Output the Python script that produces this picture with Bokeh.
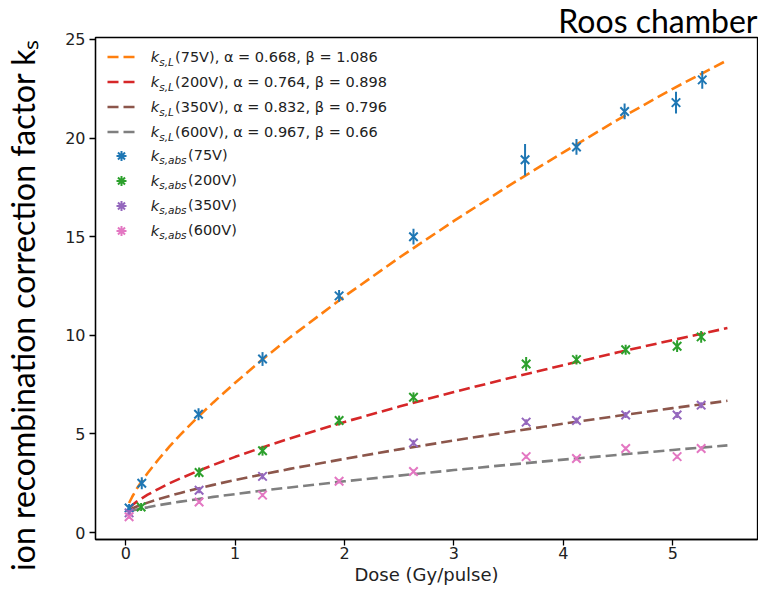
from bokeh.plotting import figure
from bokeh.models import Range1d, Label, Legend, LegendItem, FixedTicker
from bokeh.embed import file_html
from bokeh.resources import INLINE

# ---------------- data ----------------
x_ticks = [0, 1, 2, 3, 4, 5]
y_ticks = [0, 5, 10, 15, 20, 25]

# measured k_s,abs with error bars
dose_75 = [0.03, 0.146, 0.665, 1.25, 1.95, 2.63, 3.65, 4.12, 4.56, 5.03, 5.27]
ks_75 = [1.25, 2.5, 6.0, 8.8, 12.0, 15.0, 18.9, 19.55, 21.35, 21.8, 22.95]
err_75 = [0.2, 0.3, 0.3, 0.35, 0.3, 0.4, 0.8, 0.4, 0.4, 0.55, 0.45]

dose_200 = [0.14, 0.67, 1.25, 1.95, 2.63, 3.66, 4.12, 4.57, 5.04, 5.26]
ks_200 = [1.3, 3.05, 4.15, 5.68, 6.86, 8.55, 8.77, 9.27, 9.45, 9.92]
err_200 = [0.2, 0.25, 0.25, 0.25, 0.25, 0.35, 0.25, 0.25, 0.3, 0.3]

dose_350 = [0.03, 0.67, 1.25, 2.63, 3.66, 4.12, 4.57, 5.04, 5.26]
ks_350 = [1.0, 2.15, 2.85, 4.55, 5.6, 5.68, 5.96, 5.96, 6.46]
err_350 = [0.15, 0.15, 0.15, 0.15, 0.15, 0.15, 0.15, 0.15, 0.15]

dose_600 = [0.03, 0.67, 1.25, 1.95, 2.63, 3.66, 4.12, 4.57, 5.04, 5.26]
ks_600 = [0.8, 1.55, 1.9, 2.6, 3.1, 3.85, 3.76, 4.26, 3.85, 4.26]
err_600 = [0.1, 0.1, 0.1, 0.1, 0.1, 0.1, 0.1, 0.1, 0.1, 0.1]

# fitted curves k_s,L
curve_dose = [0.03, 0.06, 0.1, 0.15, 0.2, 0.3, 0.4, 0.5, 0.65, 0.8, 1.0,
              1.25, 1.5, 2.0, 2.5, 3.0, 3.5, 4.0, 4.5, 5.0, 5.5]
curve_75 = [1.50, 1.83, 2.22, 2.64, 3.02, 3.72, 4.37, 4.97, 5.81, 6.60, 7.60,
            8.78, 9.89, 11.98, 13.94, 15.80, 17.58, 19.28, 20.94, 22.50, 23.95]
curve_200 = [1.24, 1.40, 1.57, 1.75, 1.92, 2.22, 2.50, 2.75, 3.10, 3.43, 3.84,
             4.32, 4.77, 5.61, 6.39, 7.13, 7.82, 8.49, 9.14, 9.76, 10.37]
curve_350 = [1.13, 1.22, 1.32, 1.42, 1.52, 1.70, 1.86, 2.01, 2.22, 2.42, 2.67,
             2.95, 3.23, 3.74, 4.22, 4.67, 5.10, 5.52, 5.92, 6.31, 6.68]
curve_600 = [1.07, 1.12, 1.17, 1.23, 1.28, 1.39, 1.48, 1.57, 1.69, 1.81, 1.95,
             2.13, 2.29, 2.60, 2.89, 3.17, 3.44, 3.70, 3.94, 4.19, 4.42]

fit_labels = ["(75V), α = 0.668, β = 1.086", "(200V), α = 0.764, β = 0.898",
              "(350V), α = 0.832, β = 0.796", "(600V), α = 0.967, β = 0.66"]
abs_labels = ["(75V)", "(200V)", "(350V)", "(600V)"]

line_colors = ["#ff7f0e", "#d62728", "#8c564b", "#7f7f7f"]
mark_colors = ["#1f77b4", "#2ca02c", "#9467bd", "#e377c2"]

# ---------------- figure ----------------
W, H = 758, 587
ML, MR, MT, MB = 93, 1, 34, 48

p = figure(width=W, height=H, x_range=Range1d(-0.277, 5.775), y_range=Range1d(-0.35, 25.1),
           output_backend="svg", toolbar_location=None,
           min_border_left=ML, min_border_right=MR, min_border_top=MT, min_border_bottom=MB)
p.title.text = "Roos chamber"
p.title.align = "right"
p.title.text_font = "Lato"
p.title.text_font_size = "32px"
p.title.text_font_style = "normal"
p.title.text_color = "black"
p.title.offset = 0
try:
    p.title.standoff = -4
except Exception:
    p.title.standoff = 0

p.xgrid.visible = False
p.ygrid.visible = False
p.outline_line_color = "black"
p.outline_line_width = 1.3
p.outline_line_alpha = 1.0
p.background_fill_color = "white"
p.border_fill_color = "white"

p.xaxis.ticker = FixedTicker(ticks=x_ticks)
p.yaxis.ticker = FixedTicker(ticks=y_ticks)
for ax in (p.xaxis[0], p.yaxis[0]):
    ax.axis_line_color = "black"
    ax.axis_line_width = 1.3
    ax.major_tick_line_color = "black"
    ax.major_tick_line_width = 1.3
    ax.major_tick_in = 0
    ax.major_tick_out = 6
    ax.minor_tick_line_color = None
    ax.major_label_text_font = "DejaVu Sans"
    ax.major_label_text_font_size = "16px"
    ax.major_label_text_color = "#222222"
p.xaxis.major_label_standoff = 1
p.yaxis.major_label_standoff = 4
p.xaxis.axis_label = "Dose (Gy/pulse)"
p.xaxis.axis_label_text_font = "DejaVu Sans"
p.xaxis.axis_label_text_font_size = "18px"
p.xaxis.axis_label_text_font_style = "normal"
p.xaxis.axis_label_text_color = "#222222"
p.xaxis.axis_label_standoff = 2

# a few trailing no-break spaces shift the visible label slightly down, as in the reference
p.yaxis.axis_label = "ion recombination correction factor k\u209b" + "\u00a0" * 4
p.yaxis.axis_label_text_font = "Lato"
p.yaxis.axis_label_text_font_size = "32px"
p.yaxis.axis_label_text_font_style = "normal"
p.yaxis.axis_label_text_color = "black"
p.yaxis.axis_label_standoff = 20

# ---------------- glyphs ----------------
curves = [curve_75, curve_200, curve_350, curve_600]
line_rs = []
for ys, c in zip(curves, line_colors):
    line_rs.append(p.line(curve_dose, ys, line_color=c, line_width=2.6, line_dash="11 5"))

series = [(dose_75, ks_75, err_75), (dose_200, ks_200, err_200),
          (dose_350, ks_350, err_350), (dose_600, ks_600, err_600)]
leg_marks = []
for (xs, ys, es), c in zip(series, mark_colors):
    lo = [y - e for y, e in zip(ys, es)]
    hi = [y + e for y, e in zip(ys, es)]
    p.segment(x0=xs, y0=lo, x1=xs, y1=hi, line_color=c, line_width=2)
    p.scatter(xs, ys, marker="x", size=12, line_color=c, line_width=2)
    leg_marks.append(p.scatter(xs, ys, marker="asterisk", size=0, line_color=c, line_width=2))

# ---------------- legends ----------------
ROW = 25
leg1_top = 10.2          # px below frame top
leg2_top = 108.5
GX = 12                  # glyph left, px from frame left
GW = 28
FH = H - MT - MB

leg1 = Legend(items=[LegendItem(label=t, renderers=[r]) for t, r in zip(fit_labels, line_rs)],
              location=(GX, FH - leg1_top - 4 * ROW), glyph_width=GW, glyph_height=ROW,
              label_height=ROW, spacing=0, padding=0, margin=0, label_standoff=40,
              label_text_font="DejaVu Sans", label_text_font_size="14.5px",
              label_text_color="#222222",
              background_fill_alpha=0, border_line_alpha=0)
leg2 = Legend(items=[LegendItem(label=t, renderers=[r]) for t, r in zip(abs_labels, leg_marks)],
              location=(GX, FH - leg2_top - 4 * ROW), glyph_width=GW, glyph_height=ROW,
              label_height=ROW, spacing=0, padding=0, margin=0, label_standoff=53,
              label_text_font="DejaVu Sans", label_text_font_size="14.5px",
              label_text_color="#222222",
              background_fill_alpha=0, border_line_alpha=0)
p.add_layout(leg1)
p.add_layout(leg2)

k_x = 55.3
sub_x = 63.7
for top, sub in ((leg1_top, "s,L"), (leg2_top, "s,abs")):
    for i in range(4):
        yc = FH - (top + ROW * i + ROW / 2)
        p.add_layout(Label(x=k_x, y=yc, x_units="screen", y_units="screen", text="k",
                           text_font="DejaVu Sans", text_font_style="italic",
                           text_font_size="14.5px", text_color="#222222",
                           text_baseline="middle", text_align="left"))
        p.add_layout(Label(x=sub_x, y=yc - 4.5, x_units="screen", y_units="screen", text=sub,
                           text_font="DejaVu Sans", text_font_style="italic",
                           text_font_size="10.5px", text_color="#222222",
                           text_baseline="middle", text_align="left"))

open("out.html", "w").write(file_html(p, INLINE))
